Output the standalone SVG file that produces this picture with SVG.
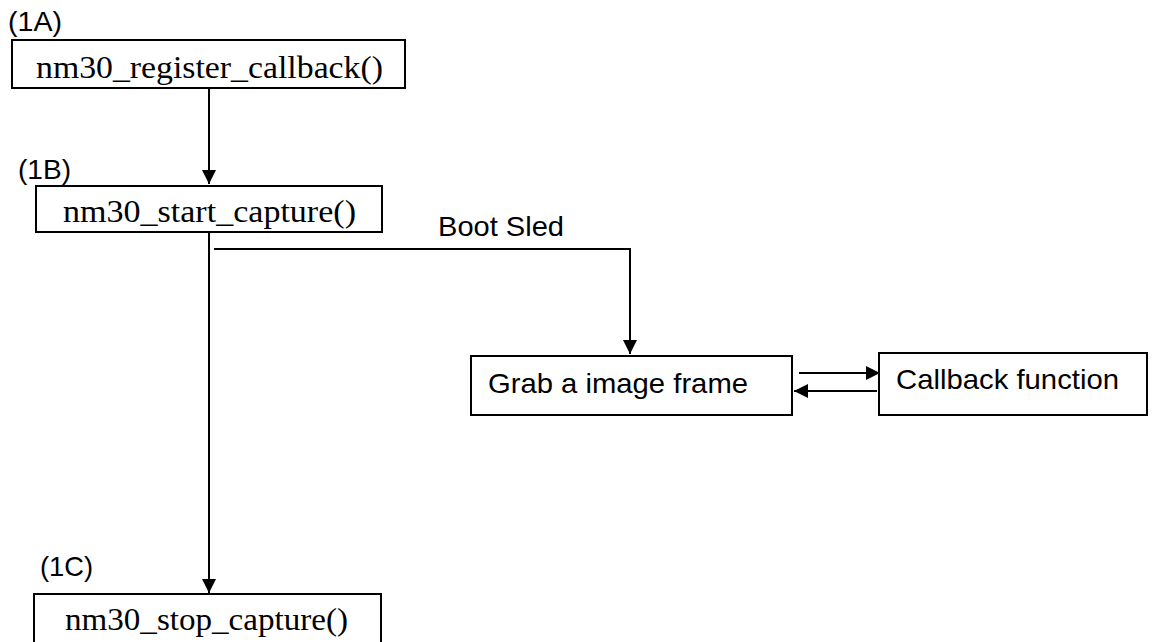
<svg xmlns="http://www.w3.org/2000/svg" width="1152" height="642" viewBox="0 0 1152 642">
<style>
.box{fill:#fff;stroke:#000;stroke-width:2}
.serif{font-family:"Liberation Serif",serif;font-size:31px;fill:#000}
.sans{font-family:"Liberation Sans",Arial,sans-serif;font-size:28px;fill:#000}
.ln{fill:none;stroke:#000;stroke-width:2}
</style>
<defs>
<marker id="ah" markerUnits="userSpaceOnUse" markerWidth="16" markerHeight="14" refX="14" refY="7" orient="auto">
<path d="M0,0 L14,7 L0,14 Z" fill="#000"/>
</marker>
</defs>
<rect width="1152" height="642" fill="#fff"/>
<g id="connectors">
<line class="ln" x1="209" y1="88" x2="209" y2="184" marker-end="url(#ah)"/>
<line class="ln" x1="209" y1="232" x2="209" y2="593" marker-end="url(#ah)"/>
<polyline class="ln" points="214,249 630,249 630,354" marker-end="url(#ah)"/>
<line class="ln" x1="799" y1="373" x2="880" y2="373" marker-end="url(#ah)"/>
<line class="ln" x1="877" y1="391" x2="794" y2="391" marker-end="url(#ah)"/>
<text class="sans" x="438" y="236" textLength="126" lengthAdjust="spacingAndGlyphs">Boot Sled</text>
</g>
<g id="node1A">
<text class="sans" x="8" y="31" textLength="54" lengthAdjust="spacingAndGlyphs">(1A)</text>
<rect class="box" x="12" y="40" width="393" height="48"/>
<text class="serif" x="36" y="78" textLength="347" lengthAdjust="spacingAndGlyphs">nm30_register_callback()</text>
</g>
<g id="node1B">
<text class="sans" x="18" y="179" textLength="53" lengthAdjust="spacingAndGlyphs">(1B)</text>
<rect class="box" x="36" y="186" width="346" height="46"/>
<text class="serif" x="63" y="222" textLength="293" lengthAdjust="spacingAndGlyphs">nm30_start_capture()</text>
</g>
<g id="nodeGrab">
<rect class="box" x="471" y="356" width="321" height="59"/>
<text class="sans" x="488" y="393" textLength="260" lengthAdjust="spacingAndGlyphs">Grab a image frame</text>
</g>
<g id="nodeCallback">
<rect class="box" x="879" y="353" width="268" height="62"/>
<text class="sans" x="896" y="389" textLength="223" lengthAdjust="spacingAndGlyphs">Callback function</text>
</g>
<g id="node1C">
<text class="sans" x="40" y="576" textLength="53" lengthAdjust="spacingAndGlyphs">(1C)</text>
<rect class="box" x="34" y="594" width="347" height="60"/>
<text class="serif" x="65" y="630" textLength="283" lengthAdjust="spacingAndGlyphs">nm30_stop_capture()</text>
</g>
</svg>
